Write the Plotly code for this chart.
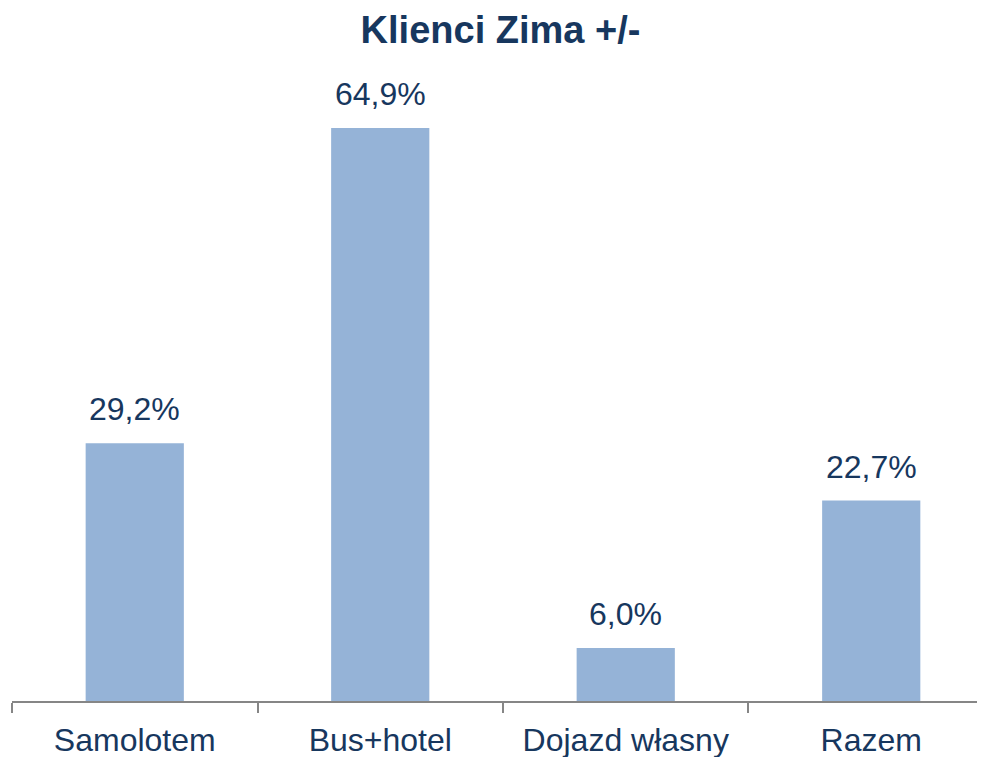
import plotly.graph_objects as go

categories = ["Samolotem", "Bus+hotel", "Dojazd własny", "Razem"]
values = [29.2, 64.9, 6.0, 22.7]
labels = [f"{v:.1f}".replace(".", ",") + "%" for v in values]

TEXT = "#17375E"
FONT = "Liberation Sans, Arial, sans-serif"

fig = go.Figure()
fig.add_trace(go.Bar(
    x=categories, y=values, width=0.4,
    marker=dict(color="#95B3D7", line=dict(width=0)),
    hoverinfo="skip",
))

for c, v, t in zip(categories, values, labels):
    fig.add_annotation(x=c, y=v, text=t, showarrow=False, yanchor="bottom",
                       yshift=14, font=dict(size=32, color=TEXT, family=FONT))

fig.update_layout(
    width=985, height=757,
    margin=dict(l=4, r=0, t=82, b=64),
    paper_bgcolor="white", plot_bgcolor="white",
    showlegend=False,
    title=dict(text="<b>Klienci Zima +/-</b>", x=0.5, xanchor="center",
               y=1 - 22 / 757, yanchor="middle",
               font=dict(size=38, color=TEXT, family=FONT)),
    font=dict(family=FONT, color=TEXT),
)
fig.update_xaxes(
    type="category", range=[-0.5, 3.496],
    showline=True, linecolor="#868686", linewidth=1.5,
    ticks="outside", ticklen=10, tickcolor="#868686", tickwidth=1.5,
    tickson="boundaries", ticklabelstandoff=10,
    tickfont=dict(size=32, color=TEXT, family=FONT),
    showgrid=False, zeroline=False,
)
fig.update_yaxes(range=[0, 611 / 8.83], showgrid=False, zeroline=False,
                 showticklabels=False, showline=False, ticks="")

fig.write_html("out.html")
